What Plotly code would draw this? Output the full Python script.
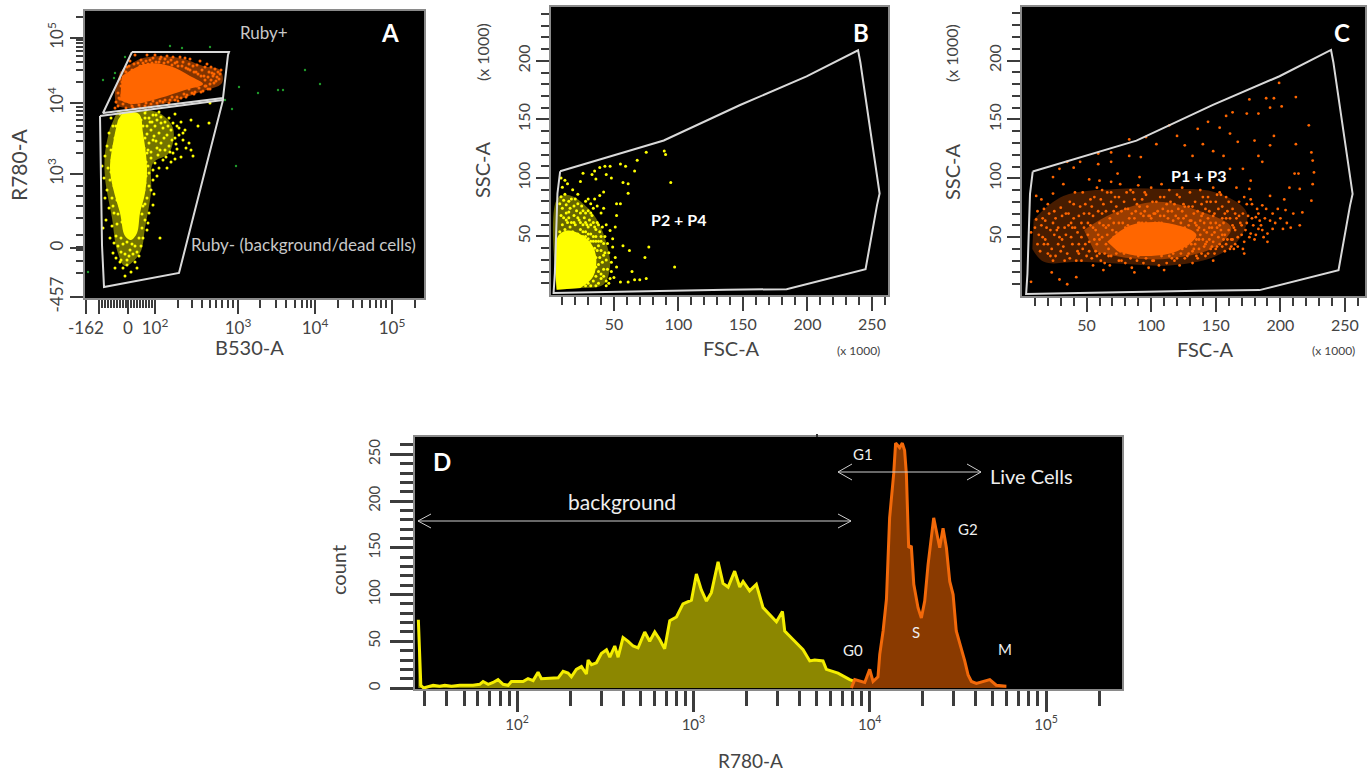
import plotly.graph_objects as go

W, H = 1372, 774
FONT = "Lato"
TICK = "#3c3c3c"
GATE = "#d9d9d9"
YEL = "#ffff00"
ORG = "#ff6600"

# ---------- Panel A (biexponential axes, display channels) ----------
a_x_major = [1, 14, 43, 70, 153, 230, 307]
a_x_labels = ["-162", "", "0", "10<sup>2</sup>", "10<sup>3</sup>", "10<sup>4</sup>", "10<sup>5</sup>"]
a_x_minor = [17,20,23,26,29,32,35,38,41,46,49,52,55,58,61,64,67,93,107,117,125,131,137,143,148,175,191,201,210,217,222,226,253,268,277,285,291,296,301,330]
a_y_major = [1, 50, 124, 195, 260]
a_y_labels = ["-457", "0", "10<sup>3</sup>", "10<sup>4</sup>", "10<sup>5</sup>"]
a_y_minor = [25,37,48.5,51.5,63,80,92,102,112,145,157,166,172,178,183,187,191,216,228,236,242,247,251,255,258,281]

a_gate_upper = [(47,246),(144,246),(143,243),(138,200),(18,185),(47,246)]
a_gate_lower = [(15,182),(138,198),(94,25),(19,11),(17,53),(16,138),(15,182)]

a_yellow_core = [(38,186),(54,184),(58,165),(62,130),(60,105),(55,85),(52,65),(46,58),(40,62),(35,85),(28,110),(25,130),(29,160),(33,178)]
a_yellow_mid = [(32,186),(72,186),(88,170),(84,145),(68,135),(66,105),(60,70),(55,45),(40,32),(32,48),(27,80),(20,120),(20,145),(25,170)]
a_yellow_pts = [(60,185),(64,180),(68,183),(72,178),(76,181),(80,176),(84,180),(88,175),(92,172),(96,176),(100,168),(62,172),(66,168),(70,172),(74,165),(78,170),(82,163),(86,168),(90,160),(94,163),(98,158),(101,150),(104,155),(108,142),(106,148),(60,160),(64,155),(68,158),(72,150),(76,155),(80,148),(84,152),(88,145),(92,149),(96,141),(62,145),(66,140),(70,135),(74,130),(78,138),(82,130),(86,136),(64,125),(68,118),(72,122),(60,115),(66,108),(62,100),(68,93),(58,92),(64,85),(60,78),(62,68),(58,60),(56,52),(75,60),(125,195),(124,175),(113,172),(106,178),(26,180),(28,172),(24,165),(30,160),(22,152),(26,148),(20,142),(17,132),(23,130),(19,120),(25,118),(22,108),(27,100),(20,100),(24,90),(29,85),(21,78),(27,72),(31,62),(25,60),(33,52),(28,45),(31,40),(35,36),(38,30),(42,33),(46,26),(50,36),(54,42),(40,22),(30,30),(36,46),(45,48),(52,30),(29,55),(18,70),
 (35,184),(38,176),(31,172),(36,166),(29,152),(33,146),(27,138),(31,124),(26,126),(29,112),(32,98),(28,92),(35,92),(33,84),(37,76),(32,74),(40,68),(36,60),(42,56),(38,54),(47,54),(50,52),(44,42),(40,44),(48,44),(36,38),(42,38),(52,46),(60,180),(58,172),(62,164),(56,165),(65,176),(69,162),(71,157),(59,150),(63,148),(66,146),(73,143),(61,136),(58,125),(63,132),(68,128),(61,122),(59,108),(64,112),(69,104),(60,94),(57,84),(63,75),(57,70),(54,60),(76,175),(79,160),(83,172),(87,158),(91,154),(94,170),(98,165),(75,148),(81,141),(85,146),(90,139),(67,176),(71,183),(56,178),(61,188),(74,186),(90,184)]
a_orange_core = [(37,222),(60,234),(85,232),(105,222),(118,214),(100,208),(75,200),(48,194),(35,198)]
a_orange_mid = [(35,226),(58,240),(95,240),(118,232),(135,228),(137,215),(115,206),(82,195),(48,190),(32,193),(30,208)]
a_orange_pts = [(34,200),(36,212),(38,194),(40,222),(42,231),(45,237),(47,192),(50,243),(52,228),(54,193),(56,238),(58,235),(60,192),(62,243),(65,238),(66,194),(68,240),(70,243),(72,195),(74,236),(76,241),(78,196),(80,239),(82,242),(85,198),(86,238),(88,241),(90,198),(92,236),(95,241),(96,200),(98,236),(100,240),(102,203),(104,234),(105,239),(107,205),(108,232),(110,206),(112,233),(114,210),(115,237),(117,228),(118,207),(120,231),(121,212),(122,234),(124,226),(125,214),(126,231),(128,222),(129,215),(130,229),(131,217),(133,226),(134,219),(135,224),(136,228),(127,225),(119,222),(111,226),(103,229),(43,208),(37,203),(33,192),(35,219),(39,228),(44,196),(41,190),(48,190),(55,190),(64,191),(73,192),(84,195),(93,197),(101,201),(109,204),(116,206),(123,209),
 (31,196),(33,205),(35,199),(30,190),(37,216),(41,226),(44,232),(47,228),(49,234),(53,235),(55,232),(59,233),(61,237),(63,234),(67,235),(71,236),(73,233),(75,239),(79,235),(83,236),(87,233),(90,235),(93,232),(97,232),(101,230),(105,228),(109,226),(113,224),(116,222),(120,218),(123,221),(126,218),(129,224),(132,221),(125,209),(120,212),(112,212),(104,209),(99,204),(92,201),(87,201),(80,198),(75,197),(68,197),(61,195),(53,196),(46,195),(40,197)]
a_green_pts = [(85,252),(97,250),(125,251),(40,241),(30,225),(29,220),(18,218),(220,228),(235,214),(154,211),(173,205),(193,208),(198,208),(147,189),(140,198),(151,132),(3,26)]

# ---------- Panels B and C (FSC-A / SSC-A, x 1000) ----------
fsc_major = [50,100,150,200,250]
ssc_major = [50,100,150,200]
fsc_minor = [v for v in range(10,270,10) if v % 50]
ssc_minor = [v for v in range(10,250,10) if v % 50]
gate_scatter = [(8.3,105.7),(88.6,132),(147.8,162.3),(199.3,186.7),(239.2,209),(241,198.6),(255.9,86.7),(253.9,76.8),(245,22),(183.8,5),(137,4.5),(48.7,2.5),(3.2,1.7),(4.2,18.7),(5.2,52.7),(6.2,86.7),(8.3,105.7)]

b_core = [(5.6,4.5),(6.5,50),(15,55),(30,47),(36,34),(34,16),(24,6)]
b_mid = [(5.5,4.5),(6,82),(16,85),(30,74),(38,62),(44,45),(47,25),(42,9),(25,6)]
b_pts = [(75,122),(89,123),(90,120),(68,115),(66,106),(55,112),(59,110),(94,96),(57,96),(61,95),(61,87),(43,110),(39,109),(47,110),(35,106),(33,103),(36,99),(44,103),(48,100),(42,88),(39,85),(52,78),(55,78),(52,68),(51,58),(77,41),(62,38),(57,42),(74,32),(97,24),(64,20),(66,13),(70,13),(75,14),(61,11),(55,11),(52,24),(51,32),(49,41),
 (9,100),(10,92),(12,98),(14,95),(9,84),(12,86),(15,80),(18,90),(20,82),(22,86),(24,97),(26,104),(28,80),(30,72),(32,78),(35,82),(37,76),(40,70),(42,74),(44,60),(47,55),(49,48),(10,74),(13,70),(16,74),(19,68),(21,72),(23,64),(25,76),(27,66),(29,60),(31,64),(33,68),(35,58),(37,62),(39,54),(41,58),(43,50),(45,44),(10,60),(12,56),(14,62),(16,58),(18,54),(20,60),(22,52),(24,56),(26,50),(28,54),(30,48),(32,52),(34,46),(36,50),(38,42),(40,38),(42,34),(44,30),(46,36),(48,20),(50,15),(44,12),(38,10),(36,16),(40,14),(34,12),(42,22),(38,26),(36,32),(46,10),(48,28),
 (8,78),(11,81),(13,77),(15,71),(17,82),(19,76),(22,78),(24,70),(26,72),(28,70),(30,82),(32,70),(34,74),(11,66),(13,64),(15,66),(17,62),(19,62),(22,66),(24,62),(26,60),(28,62),(30,58),(32,60),(34,62),(36,56),(38,60),(40,50),(8,54),(9,68),(10,50),(12,52),(14,50),(16,52),(18,50),(20,50),(22,48),(24,50),(26,54),(28,50),(30,52),(32,46),(34,50),(36,46),(38,46),(40,46),(42,44),(35,40),(37,38),(39,32),(41,28),(43,36),(45,22),(36,24),(38,20),(40,18),(42,16),(34,20),(36,8),(32,8),(30,10),(28,8),(44,8),(47,14)]

c_outer = [(9,65),(32,85),(73,91),(109,91),(150,88),(174,71),(168,48),(148,33),(114,26),(83,27),(45,29),(17,29),(8,40)]
c_mid = [(48,56),(70,70),(104,80),(138,72),(162,58),(150,42),(116,32),(84,32),(56,38)]
c_core = [(66,46),(84,60),(112,62),(135,52),(120,38),(92,34),(74,38)]
c_pts = [(199,181),(176,167),(189,168),(195,168),(212,169),(201,161),(192,160),(174,155),(163,156),(183,155),(158,153),(144,148),(153,143),(136,142),(114,145),(222,145),(161,138),(180,132),(195,136),(212,129),(192,128),(167,131),(183,119),(186,114),(224,122),(225,115),(226,105),(225,95),(224,81),(211,104),(214,104),(207,92),(215,91),(203,82),(204,73),(217,71),(215,60),(202,57),(194,57),(190,53),(183,57),(181,67),(186,77),(192,85),(176,91),(177,98),(171,108),(161,108),(156,119),(148,123),(132,119),(126,128),(140,129),(120,136),(104,129),(96,135),(83,133),(69,122),(59,121),(45,114),(35,114),(29,108),(24,101),(40,109),(59,112),(69,114),(83,119),(92,118),(74,104),(91,101),(60,98),(69,97),(52,99),(32,95),(24,87),(11,85),(15,82),(17,74),(11,65),(7,54),(7,12),(35,10),(29,14),(42,16),(23,20),(63,22),(87,20),(110,22),(148,30),(172,36),(177,53),
 (12,72),(15,60),(18,48),(12,44),(20,36),(24,30),(22,56),(26,66),(28,44),(30,75),(33,58),(35,36),(37,80),(38,50),(40,66),(42,30),(44,44),(45,76),(47,88),(48,58),(50,34),(52,70),(53,82),(55,26),(56,48),(58,92),(60,62),(61,30),(63,78),(65,44),(66,88),(68,26),(70,56),(71,72),(73,36),(75,84),(76,95),(78,62),(80,28),(82,74),(84,90),(85,24),(87,82),(89,30),(90,94),(92,70),(94,28),(96,86),(98,24),(100,92),(102,30),(104,80),(106,26),(108,95),(110,84),(112,28),(114,90),(116,72),(118,30),(120,86),(122,26),(124,92),(126,76),(128,34),(130,88),(132,28),(134,80),(136,32),(138,90),(140,70),(142,34),(144,84),(146,62),(148,92),(150,40),(152,74),(154,86),(156,48),(158,66),(160,80),(162,42),(164,58),(166,92),(168,68),(170,52),(172,84),(174,62),(178,78),(180,48),(182,74),(185,60),(188,66),(190,46),(196,62),(198,74),
 (20,44),(25,52),(30,38),(34,70),(38,62),(43,54),(47,40),(51,62),(54,76),(57,38),(59,52),(62,70),(64,36),(67,60),(69,80),(72,46),(74,70),(77,30),(79,80),(83,66),(86,38),(88,72),(91,62),(93,82),(95,72),(97,40),(99,68),(101,80),(103,70),(105,36),(107,68),(109,74),(111,38),(113,66),(115,80),(117,36),(119,68),(121,74),(123,36),(125,66),(127,42),(129,76),(131,64),(133,40),(135,60),(137,48),(139,78),(141,56),(143,46),(145,72),(147,52),(149,36),(151,58),(153,44),(155,66),(157,38),(159,72),(163,48),(165,70),(167,42),
 (10,58),(13,52),(14,38),(16,66),(17,44),(19,58),(21,70),(23,40),(24,62),(26,34),(27,56),(29,50),(31,68),(32,42),(34,52),(36,60),(37,32),(39,44),(40,78),(41,58),(43,38),(44,68),(46,50),(46,30),(48,70),(49,44),(51,52),(52,38),(53,60),(54,32),(55,68),(57,56),(58,44),(59,72),(60,36),(61,82),(62,50),(63,60),(64,28),(65,72),(66,52),(67,40),(68,66),(69,34),(70,46),(71,62),(72,84),(73,54),(74,44),(75,30),(75,62),(76,38),(77,72),(78,50),(79,36),(80,58),(81,88),(82,44),(83,54),(84,32),(85,70),(85,46),(86,58),(87,66),(88,40),(88,52),(89,78),(90,34),(90,62),(91,46),(92,56),(93,36),(94,68),(94,44),(95,54),(96,62),(96,32),(97,76),(98,48),(99,38),(99,58),(100,66),(101,44),(101,30),(102,54),(103,62),(103,38),(104,48),(105,72),(105,58),(106,42),(107,52),(108,34),(108,62),(109,46),(110,68),(110,38),(111,56),(112,78),(112,44),(113,50),(114,34),(114,60),(115,44),(116,56),(116,32),(117,64),(118,48),(118,78),(119,40),(120,56),(120,32),(121,66),(122,46),(122,84),(123,54),(124,40),(124,72),(125,48),(126,58),(126,32),(127,68),(128,44),(128,54),(129,36),(130,64),(130,46),(131,54),(132,76),(132,38),(133,50),(134,62),(134,44),(135,34),(136,56),(136,72),(137,40),(138,64),(138,52),(139,36),(140,48),(140,84),(141,62),(142,44),(142,74),(143,54),(144,36),(144,66),(145,48),(146,40),(146,80),(147,58),(148,46),(148,68),(149,54),(150,62),(150,80),(151,42),(152,50),(153,88),(154,56),(155,42),(155,76),(156,62),(157,52),(158,44),(158,84),(160,56),(161,66),(162,48),(163,74),(164,40),(165,56),(166,66),(167,50),(168,80),(170,60),(171,70),(172,46),(173,56),(175,68),(176,50),(177,82),(179,60),(181,52),(183,70),(186,56),(189,74),(192,64),(194,70),(200,66),(205,62),(208,58),(210,70),
 (16,50),(18,64),(20,78),(22,34),(25,72),(28,58),(31,48),(33,30),(36,70),(39,58),(41,88),(44,36),(46,62),(49,78),(52,46),(55,58),(56,84),(58,34),(60,48),(62,90),(65,58),(67,34),(69,88),(71,50),(73,76),(76,52),(78,42),(80,74),(82,60),(84,50),(86,88),(89,50),(91,76),(92,40),(93,62),(95,88),(97,52),(98,68),(100,50),(102,70),(104,40),(106,62),(107,84),(109,56),(111,48),(113,72),(115,52),(117,46),(119,58),(121,44),(123,62),(125,78),(127,50),(129,60),(131,44),(133,70),(135,48),(137,58),(139,68),(141,42),(143,80),(145,58),(147,42),(149,70),(151,86),(153,60),(155,52),(157,70),(159,48),(161,40),(163,60),(165,44),(169,62),(171,40),(174,78),(178,66),(184,64),(187,50)]

# ---------- Panel D (histogram of R780-A) ----------
yellow_log10x = [1.44,1.454,1.47,1.524,1.561,1.59,1.628,1.675,1.75,1.788,1.807,1.836,1.864,1.892,1.921,1.949,1.968,2.034,2.062,2.091,2.119,2.138,2.233,2.261,2.289,2.308,2.336,2.365,2.393,2.403,2.422,2.45,2.478,2.507,2.526,2.554,2.573,2.601,2.63,2.658,2.686,2.724,2.752,2.781,2.809,2.837,2.866,2.904,2.941,2.989,3.017,3.045,3.074,3.102,3.14,3.168,3.197,3.234,3.263,3.282,3.319,3.357,3.395,3.433,3.471,3.505,3.518,3.565,3.622,3.66,3.688,3.735,3.754,3.82,3.887,3.943,4.0]
yellow_count = [73,3,0,3,2,3,2,3,3,4,7,4,6,9,4,3,7,7,10,8,17,10,11,18,16,12,20,23,15,30,25,27,37,41,33,45,33,54,50,45,43,60,50,60,52,42,72,76,90,94,122,105,93,102,135,112,108,125,108,114,104,111,86,79,71,82,61,52,41,29,30,29,20,16,9,5,3]
orange_log10x = [3.896,3.915,3.972,4.0,4.019,4.047,4.057,4.076,4.095,4.113,4.136,4.147,4.17,4.185,4.198,4.208,4.221,4.236,4.25,4.274,4.293,4.312,4.331,4.35,4.363,4.378,4.397,4.416,4.435,4.454,4.473,4.491,4.52,4.539,4.558,4.577,4.605,4.681,4.718,4.775]
orange_count = [0,9,6,20,7,12,36,61,95,182,229,262,257,262,254,229,150,152,111,86,75,93,132,161,182,168,150,171,150,114,100,61,43,29,14,7,5,9,3,2]
d_x_major = [1e2,1e3,1e4,1e5]
d_x_labels = ["10<sup>2</sup>","10<sup>3</sup>","10<sup>4</sup>","10<sup>5</sup>"]
d_x_minor = [m*d for d in (10,100,1000,10000) for m in range(2,10) if m*d >= 30] + [2e5]
d_y_major = [0,50,100,150,200,250]
d_y_minor = [v for v in range(10,270,10) if v % 50]


def xs(p): return [q[0] for q in p]
def ys(p): return [q[1] for q in p]
def fx(v): return v / W
def fy(v): return 1 - v / H


def ax(domain, rng, vals, text, minor, anchor, angle=0, maj=14, mnr=8, tw=1.5, size=16, **kw):
    return dict(domain=domain, range=rng, anchor=anchor, showgrid=False, zeroline=False, automargin=False,
                tickmode="array", tickvals=vals, ticktext=text, ticks="outside",
                ticklen=maj, tickwidth=tw, tickcolor=TICK, tickangle=angle,
                tickfont=dict(family=FONT, size=size, color="#444444"),
                minor=dict(tickmode="array", tickvals=minor, ticks="outside", ticklen=mnr,
                           tickwidth=tw, tickcolor=TICK, showgrid=False),
                showline=True, linecolor="#8a8a8a", linewidth=1.5, mirror=True, **kw)


fig = go.Figure()


def poly(p, color, a, b, opacity=1.0):
    fig.add_trace(go.Scatter(x=xs(p), y=ys(p), xaxis=a, yaxis=b, mode="lines", fill="toself",
                             fillcolor=color, opacity=opacity, hoverinfo="skip",
                             line=dict(width=0, shape="spline", smoothing=1, color=color)))


def dots(p, color, a, b, size=2.4):
    fig.add_trace(go.Scatter(x=xs(p), y=ys(p), xaxis=a, yaxis=b, mode="markers",
                             marker=dict(color=color, size=size, line=dict(width=0))))


def gate(p, a, b):
    fig.add_trace(go.Scatter(x=xs(p), y=ys(p), xaxis=a, yaxis=b, mode="lines",
                             line=dict(color=GATE, width=2)))


# Panel A
dots(a_green_pts, "#1f9a2a", "x", "y", 2.4)
poly(a_yellow_mid, YEL, "x", "y", 0.45)
dots(a_yellow_pts, YEL, "x", "y", 3)
poly(a_yellow_core, YEL, "x", "y")
poly(a_orange_mid, ORG, "x", "y", 0.5)
dots(a_orange_pts, ORG, "x", "y", 3)
poly(a_orange_core, ORG, "x", "y")
gate(a_gate_upper, "x", "y")
gate(a_gate_lower, "x", "y")

# Panel B
poly(b_mid, YEL, "x2", "y2", 0.4)
dots(b_pts, YEL, "x2", "y2", 3)
poly(b_core, YEL, "x2", "y2")
gate(gate_scatter, "x2", "y2")

# Panel C
poly(c_outer, ORG, "x3", "y3", 0.28)
poly(c_mid, ORG, "x3", "y3", 0.45)
dots(c_pts, ORG, "x3", "y3", 2.8)
poly(c_core, ORG, "x3", "y3")
gate(gate_scatter, "x3", "y3")

# Panel D
fig.add_trace(go.Scatter(x=[10**v for v in yellow_log10x], y=yellow_count, xaxis="x4", yaxis="y4",
                         mode="lines", fill="tozeroy", fillcolor="#8c8700",
                         line=dict(color="#f5ee00", width=3)))
fig.add_trace(go.Scatter(x=[10**v for v in orange_log10x], y=orange_count, xaxis="x4", yaxis="y4",
                         mode="lines", fill="tozeroy", fillcolor="#8a3a00",
                         line=dict(color="#f2690a", width=3)))

layout = dict(
    width=W, height=H, margin=dict(l=0, r=0, t=0, b=0), autosize=False,
    paper_bgcolor="white", plot_bgcolor="black", showlegend=False,
    font=dict(family=FONT),
    xaxis=ax([fx(85), fx(424)], [0, 339], a_x_major, a_x_labels, a_x_minor, "y", maj=14, mnr=8, size=17),
    yaxis=ax([fy(298), fy(11)], [0, 287], a_y_major, a_y_labels, a_y_minor, "x", angle=-90, maj=13, mnr=7, size=17),
    xaxis2=ax([fx(551), fx(888)], [1.2, 262.4], fsc_major, [str(v) for v in fsc_major], fsc_minor, "y2"),
    yaxis2=ax([fy(295), fy(7)], [0, 246], ssc_major, [str(v) for v in ssc_major], ssc_minor, "x2", angle=-90, maj=13),
    xaxis3=ax([fx(1022), fx(1365)], [0, 265.5], fsc_major, [str(v) for v in fsc_major], fsc_minor, "y3"),
    yaxis3=ax([fy(296), fy(7)], [0, 245.5], ssc_major, [str(v) for v in ssc_major], ssc_minor, "x3", angle=-90, maj=13),
    xaxis4=ax([fx(415), fx(1122)], [1.421, 5.431], d_x_major, d_x_labels, d_x_minor, "y4",
              maj=21, mnr=15, tw=2.5, size=15, type="log"),
    yaxis4=ax([fy(689), fy(437)], [-1, 268.5], d_y_major, [str(v) for v in d_y_major], d_y_minor, "x4",
              angle=-90, maj=23, mnr=13, tw=2.5, size=15, ticklabelstandoff=4),
)


def note(text, x, y, size, color="#444444", angle=0, bold=False):
    return dict(xref="paper", yref="paper", x=fx(x), y=fy(y), text=f"<b>{text}</b>" if bold else text,
                showarrow=False, xanchor="center", yanchor="middle", textangle=angle,
                font=dict(family=FONT, size=size, color=color))


layout["annotations"] = [
    note("R780-A", 19, 165, 21, angle=-90), note("B530-A", 250, 347, 20),
    note("Ruby+", 264, 33, 17, "#c8c8c8"), note("A", 390, 32, 24, "white", bold=True),
    note("Ruby- (background/dead cells)", 303, 244, 17, "#c8c8c8"),
    note("SSC-A", 482, 170, 20, angle=-90), note("(x 1000)", 482, 52, 16, angle=-90),
    note("FSC-A", 731, 348, 20), note("(x 1000)", 858, 350, 12),
    note("B", 861, 32, 24, "white", bold=True), note("P2 + P4", 678, 219, 16, "white", bold=True),
    note("SSC-A", 952, 172, 20, angle=-90), note("(x 1000)", 952, 53, 16, angle=-90),
    note("FSC-A", 1205, 349, 20), note("(x 1000)", 1333, 351, 12),
    note("C", 1342, 32, 24, "white", bold=True), note("P1 + P3", 1198, 175, 16, "white", bold=True),
    note("D", 442, 461, 24, "white", bold=True), note("background", 622, 501, 21, "#eeeeee"),
    note("Live Cells", 1031, 476, 20, "#eeeeee"), note("G1", 863, 454, 15, "#eeeeee"),
    note("G2", 968, 529, 15, "#eeeeee"), note("G0", 853, 650, 15, "#eeeeee"),
    note("S", 916, 632, 15, "#eeeeee"), note("M", 1005, 649, 15, "#eeeeee"),
    note("count", 338, 570, 20, angle=-90), note("R780-A", 750, 760, 19),
]


def seg(x0, y0, x1, y1, color="#cfcfcf", width=1):
    return dict(type="line", xref="paper", yref="paper", x0=fx(x0), y0=fy(y0), x1=fx(x1), y1=fy(y1),
                line=dict(color=color, width=width))


def arrow(x0, x1, y, h=7, d=13):
    return [seg(x0, y, x1, y), seg(x0, y, x0 + d, y - h), seg(x0, y, x0 + d, y + h),
            seg(x1, y, x1 - d, y - h), seg(x1, y, x1 - d, y + h)]


layout["shapes"] = arrow(418, 851, 521) + arrow(838, 981, 472, 8, 14) + [seg(817, 434, 817, 437, "#333333", 2)]
fig.update_layout(**layout)
fig.write_html("out.html", config={"displayModeBar": False}, post_script="document.body.style.margin='0';")
